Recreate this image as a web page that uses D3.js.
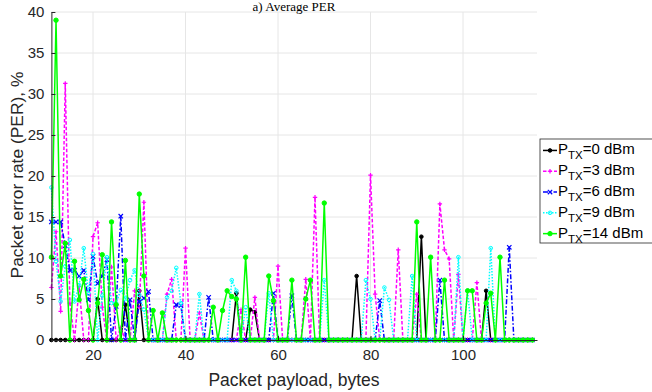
<!DOCTYPE html>
<html><head><meta charset="utf-8">
<script src="https://cdn.jsdelivr.net/npm/d3@7"></script>
<style>body{margin:0;background:#fff}svg{display:block;font-family:"Liberation Sans",Arial,sans-serif}</style>
</head><body><svg id="c" width="652" height="392"></svg>
<script>
const payloadStart = 11, payloadEnd = 115;
const xTicks = [20, 40, 60, 80, 100];
const yTicks = [0, 5, 10, 15, 20, 25, 30, 35, 40];
const legendLabels = ["0 dBm", "3 dBm", "6 dBm", "9 dBm", "14 dBm"];
// values for payload 11..115 bytes (PER, %)
const per0 = [0,0,0,0,0,0,0,0,0,0,5.0,0,0,0,0,0,4.3,0,0,6.0,0,0,0,0,0,0,0,0,0,0,0,0,0,0,0,0,0,0,0,0,5.7,0,0,3.7,3.4,0,0,0,0,0,0,0,0,0,0,0,0,0,0,0,0,0,0,0,0,0,7.8,0,0,0,0,0,0,0,0,0,0,0,0,0,12.6,0,0,0,0,0,0,0,0,0,0,0,0,0,6.0,0,0,0,0,0,0,0,0,0,0];
const per3 = [6.4,13.2,3.5,31.3,4.5,0,6.5,0,0,12.6,14.3,4.0,0,8.9,0,1.5,0,0,6.0,4.0,16.8,0,0,0,0,5.6,7.4,0,0,11.2,0,0,3.3,0,0,0,0,0,0,0,0,3.7,0,0,5.2,0,0,0,0,9.0,0,0,0,0,0,7.4,0,17.4,0,0,0,0,0,0,0,0,0,0,0,20.1,5.6,0,0,0,0,11.0,0,0,0,5.6,0,0,0,0,16.6,11.0,9.9,0,8.0,0,0,0,7.0,0,0,0,0,0,0,0,0,0,0,0,0];
const per6 = [14.4,14.4,14.4,11.5,8.5,8.5,7.8,8.5,4.9,10.2,6.9,7.8,9.8,0,4.1,15.1,0,4.9,0,4.7,5.1,5.9,0,0,0,0,0,4.3,4.2,0,0,0,0,0,5.2,0,0,0,0,0,0,0,0,0,0,0,0,0,5.7,0,0,0,5.4,0,0,0,0,0,0,0,0,0,0,0,0,0,0,0,0,0,0,4.8,0,0,0,0,0,0,0,0,0,0,0,0,7.3,0,0,0,0,0,0,0,0,0,0,0,0,0,0,11.3,0,0,0,0,0];
const per9 = [18.6,9.6,4.7,9.0,12.2,4.7,6.7,11.2,5.7,10.5,0,5.4,10.1,4.5,4.5,6.1,5.0,7.3,8.5,5.5,3.7,0,0,0,0,5.2,6.0,8.8,4.5,0,0,0,5.6,0,0,0,0,0,0,7.3,6.0,0,4.0,0,0,0,0,5.7,0,0,0,0,0,0,0,0,0,0,0,7.3,0,0,0,0,0,0,0,0,7.3,5.0,0,0,6.4,4.9,0,0,0,0,7.8,0,0,0,0,0,0,0,0,0,10.1,0,6.0,0,0,0,0,11.2,0,0,0,0,0,0,0,0,0];
const per14 = [10.1,39.0,7.8,11.8,0,9.6,4.9,7.4,3.6,0,4.5,10.4,0,14.4,4.3,0,9.7,0,0,17.8,7.8,0,3.6,0,3.3,0,0,0,0,0,0,0,0,0,0,4.0,0,3.6,6.0,5.3,5.0,0,10.1,0,0,0,0,7.8,4.8,0,0,0,7.3,0,0,5.0,7.3,0,0,16.7,0,0,0,0,0,0,0,0,0,0,0,0,0,0,0,0,0,0,0,14.4,0,0,10.1,0,0,7.3,0,0,0,0,6.0,6.0,0,0,4.5,5.7,0,10.1,0,0,0,0,0,0,0];

const payload = d3.range(payloadStart, payloadEnd + 1);
const series = [
  {label: legendLabels[0], vals: per0, color: "#000000", dash: null, marker: "o", fill: "#000"},
  {label: legendLabels[1], vals: per3, color: "#ff00ff", dash: "3.5,2", marker: "+"},
  {label: legendLabels[2], vals: per6, color: "#0000ff", dash: "5,2,1.5,2", marker: "x"},
  {label: legendLabels[3], vals: per9, color: "#00ffff", dash: "1.5,1.5", marker: "o", fill: "none"},
  {label: legendLabels[4], vals: per14, color: "#00ff00", dash: null, marker: ".", fill: "#00ff00"}
];

const svg = d3.select("#c");
const L = 51.4, R = 537, T = 12, B = 340;
const x = d3.scaleLinear().domain([11, 116]).range([L, R]);
const y = d3.scaleLinear().domain([0, 40]).range([B, T]);
const axisCol = "#262626";

// grid
const g = svg.append("g");
g.selectAll(".gx").data(xTicks).join("line")
  .attr("x1", d => x(d)).attr("x2", d => x(d)).attr("y1", T).attr("y2", B)
  .attr("stroke", "#e6e6e6").attr("stroke-width", 1);
g.selectAll(".gy").data(yTicks.slice(1)).join("line")
  .attr("x1", L).attr("x2", R).attr("y1", d => y(d)).attr("y2", d => y(d))
  .attr("stroke", "#e6e6e6").attr("stroke-width", 1);

// series
const line = d3.line().x((d, i) => x(payload[i])).y(d => y(d));
series.forEach(s => {
  const gs = svg.append("g");
  gs.append("path").datum(s.vals).attr("d", line)
    .attr("fill", "none").attr("stroke", s.color).attr("stroke-width", 1.5)
    .attr("stroke-dasharray", s.dash).attr("stroke-linejoin", "round");
  const pts = s.vals.map((v, i) => [x(payload[i]), y(v)]);
  drawMarkers(gs, pts, s);
});

function drawMarkers(gs, pts, s) {
  if (s.marker === "o" || s.marker === ".") {
    gs.selectAll("circle").data(pts).join("circle")
      .attr("cx", d => d[0]).attr("cy", d => d[1])
      .attr("r", s.marker === "." ? 2.2 : 1.8)
      .attr("fill", s.fill).attr("stroke", s.color).attr("stroke-width", 1);
  } else {
    const sz = 2.2;
    const path = s.marker === "+"
      ? d => `M${d[0]-sz},${d[1]}H${d[0]+sz}M${d[0]},${d[1]-sz}V${d[1]+sz}`
      : d => `M${d[0]-sz},${d[1]-sz}L${d[0]+sz},${d[1]+sz}M${d[0]-sz},${d[1]+sz}L${d[0]+sz},${d[1]-sz}`;
    gs.selectAll("path.m").data(pts).join("path").attr("class", "m")
      .attr("d", path).attr("stroke", s.color).attr("stroke-width", 1.2).attr("fill", "none");
  }
}

// axes
const xAxis = d3.axisBottom(x).tickValues(xTicks).tickSizeInner(-4).tickSizeOuter(0).tickPadding(9);
const yAxis = d3.axisLeft(y).tickValues(yTicks).tickSizeInner(-4).tickSizeOuter(0).tickPadding(7);
const gx = svg.append("g").attr("transform", `translate(0,${B})`).call(xAxis);
const gy = svg.append("g").attr("transform", `translate(${L},0)`).call(yAxis);
[gx, gy].forEach(a => {
  a.select(".domain").attr("stroke", axisCol);
  a.selectAll(".tick line").attr("stroke", axisCol);
  a.selectAll("text").attr("fill", axisCol).attr("font-size", 15).attr("font-family", "Liberation Sans, Arial, sans-serif");
});

// labels
svg.append("text").attr("x", 294).attr("y", 11).attr("text-anchor", "middle")
  .attr("font-family", "Liberation Serif, Times New Roman, serif").attr("font-size", 13).attr("fill", "#000")
  .text("a) Average PER");
svg.append("text").attr("x", 294).attr("y", 386).attr("text-anchor", "middle")
  .attr("font-size", 17.5).attr("fill", axisCol).text("Packet payload, bytes");
svg.append("text").attr("transform", `translate(23,${175}) rotate(-90)`).attr("text-anchor", "middle")
  .attr("font-size", 17.4).attr("fill", axisCol).text("Packet error rate (PER), %");

// legend
const lg = svg.append("g");
const lx = 540, ly0 = 139, rowH = 20.8;
lg.append("rect").attr("x", lx).attr("y", ly0).attr("width", 130).attr("height", 5 * rowH + 0)
  .attr("fill", "#fff").attr("stroke", axisCol).attr("stroke-width", 0.8);
series.forEach((s, i) => {
  const cy = ly0 + rowH * (i + 0.55);
  const row = lg.append("g");
  row.append("line").attr("x1", lx + 3).attr("x2", lx + 17).attr("y1", cy).attr("y2", cy)
    .attr("stroke", s.color).attr("stroke-width", 1.5).attr("stroke-dasharray", s.dash);
  drawMarkers(row, [[lx + 10, cy]], s);
  const t = row.append("text").attr("x", lx + 18).attr("y", cy + 4).attr("font-size", 15).attr("fill", "#000");
  t.append("tspan").text("P");
  t.append("tspan").attr("font-size", 11.5).attr("dy", 5).text("TX");
  t.append("tspan").attr("dy", -5).text("=" + s.label);
});
</script></body></html>
